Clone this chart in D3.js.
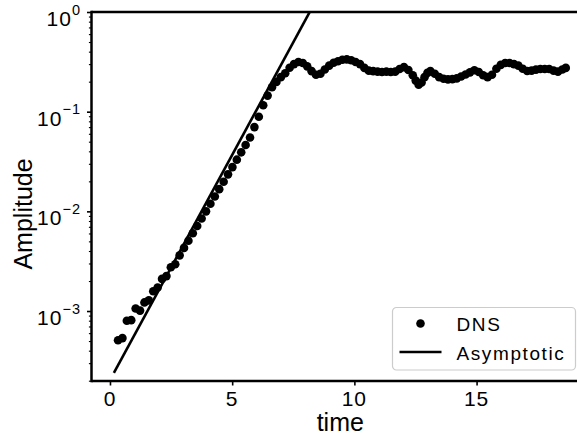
<!DOCTYPE html>
<html>
<head>
<meta charset="utf-8">
<script src="https://cdn.jsdelivr.net/npm/d3@7"></script>
<style>
body { margin: 0; background: #fff; }
svg { display: block; font-family: "Liberation Sans", Arial, sans-serif; }
.axis path { display: none; }
.axis line { stroke: #000; }
</style>
</head>
<body>
<svg id="chart" width="577" height="439"></svg>
<script>
// DNS amplitude vs time
var dnsTime = [0.33, 0.51, 0.69, 0.87, 1.05, 1.23, 1.41, 1.59, 1.77, 1.95, 2.13, 2.31, 2.49, 2.67,
    2.85, 3.03, 3.21, 3.39, 3.57, 3.75, 3.93, 4.11, 4.29, 4.47, 4.65, 4.83, 5.01, 5.19, 5.37, 5.55,
    5.73, 5.91, 6.09, 6.27, 6.45, 6.63, 6.81, 6.99, 7.17, 7.35, 7.53, 7.71, 7.89, 8.07, 8.25, 8.43,
    8.61, 8.79, 8.97, 9.15, 9.33, 9.51, 9.69, 9.87, 10.05, 10.23, 10.41, 10.59, 10.77, 10.95, 11.13,
    11.31, 11.49, 11.67, 11.85, 12.03, 12.21, 12.39, 12.51, 12.63, 12.75, 12.87, 12.99, 13.11, 13.29, 13.47, 13.65,
    13.83, 14.01, 14.19, 14.37, 14.55, 14.73, 14.91, 15.09, 15.27, 15.45, 15.63, 15.81, 15.99, 16.17,
    16.35, 16.53, 16.71, 16.89, 17.07, 17.25, 17.43, 17.61, 17.79, 17.97, 18.15, 18.33, 18.51, 18.65];
var dnsAmp = [5.1e-4, 5.35e-4, 8.0e-4, 8.1e-4, 1.06e-3, 1.01e-3, 1.22e-3, 1.28e-3, 1.58e-3, 1.72e-3, 2.1e-3, 2.24e-3, 2.75e-3, 2.95e-3,
    3.62e-3, 4.30e-3, 5.08e-3, 6.03e-3, 7.14e-3, 8.47e-3, 1.00e-2, 1.19e-2, 1.41e-2, 1.67e-2, 1.98e-2, 2.35e-2, 2.78e-2, 3.30e-2, 3.91e-2, 4.63e-2,
    5.50e-2, 0.070, 0.089, 0.116, 0.145, 0.176, 0.199, 0.222, 0.243, 0.276, 0.300, 0.315, 0.308, 0.285, 0.255, 0.235,
    0.240, 0.265, 0.290, 0.310, 0.320, 0.332, 0.335, 0.328, 0.315, 0.300, 0.275, 0.258, 0.255, 0.252, 0.250,
    0.252, 0.250, 0.252, 0.268, 0.280, 0.262, 0.232, 0.205, 0.186, 0.196, 0.222, 0.245, 0.255, 0.240, 0.222, 0.214,
    0.211, 0.212, 0.216, 0.225, 0.236, 0.248, 0.260, 0.250, 0.232, 0.222, 0.235, 0.270, 0.295, 0.308,
    0.308, 0.300, 0.290, 0.270, 0.256, 0.258, 0.264, 0.268, 0.268, 0.268, 0.258, 0.252, 0.265, 0.275];

// asymptotic growth, straight on log axis
var asymTime = [0.16, 10];
var asymAmp = [2.39e-4, 6.7];

var xTicks = [0, 5, 10, 15];
var yTicks = [1e-3, 1e-2, 1e-1, 1];
var yTickExp = ["\u22123", "\u22122", "\u22121", "0"];
var yMinor = [2e-4, 3e-4, 4e-4, 5e-4, 6e-4, 7e-4, 8e-4, 9e-4,
    2e-3, 3e-3, 4e-3, 5e-3, 6e-3, 7e-3, 8e-3, 9e-3,
    2e-2, 3e-2, 4e-2, 5e-2, 6e-2, 7e-2, 8e-2, 9e-2,
    0.2, 0.3, 0.4, 0.5, 0.6, 0.7, 0.8, 0.9];

var plot = {left: 91.5, right: 589, top: 12, bottom: 381};

var svg = d3.select("#chart");

var scaleX = d3.scaleLinear().domain([-0.756, 19.6]).range([plot.left, plot.right]);
var scaleY = d3.scaleLog().domain([Math.pow(10, -3.702), 1]).range([plot.bottom, plot.top]);

svg.append("defs").append("clipPath")
    .attr("id", "clip")
    .append("rect")
        .attr("x", plot.left)
        .attr("y", plot.top)
        .attr("width", plot.right - plot.left)
        .attr("height", plot.bottom - plot.top);

var marks = svg.append("g").attr("clip-path", "url(#clip)");

// asymptotic line
var line = d3.line()
    .x(function(d, i) { return scaleX(asymTime[i]) })
    .y(function(d, i) { return scaleY(asymAmp[i]) });

marks.append("path")
    .datum(asymTime)
    .attr("d", line)
    .attr("fill", "none")
    .attr("stroke", "#000")
    .attr("stroke-width", 2.6);

// DNS dots
marks.selectAll(".dns")
    .data(dnsTime)
    .enter()
    .append("circle")
        .attr("class", "dns")
        .attr("cx", function(d) { return scaleX(d) })
        .attr("cy", function(d, i) { return scaleY(dnsAmp[i]) })
        .attr("r", 4.3)
        .attr("fill", "#000");

// x axis
var xAxis = d3.axisBottom(scaleX).tickValues(xTicks).tickSize(4.5).tickFormat("");
svg.append("g")
    .attr("class", "axis")
    .attr("transform", "translate(0," + plot.bottom + ")")
    .call(xAxis)
    .selectAll("line").attr("stroke-width", 1.6);

svg.selectAll(".x-label")
    .data(xTicks)
    .enter()
    .append("text")
        .attr("class", "x-label")
        .attr("x", function(d) { return scaleX(d) })
        .attr("y", 405.5)
        .attr("text-anchor", "middle")
        .attr("font-size", 21)
        .attr("letter-spacing", 1)
        .text(function(d) { return d });

// y axis, major + minor ticks
var yAxis = d3.axisLeft(scaleY).tickValues(yTicks).tickSize(4.5).tickFormat("");
svg.append("g")
    .attr("class", "axis")
    .attr("transform", "translate(" + plot.left + ",0)")
    .call(yAxis)
    .selectAll("line").attr("stroke-width", 1.6);

var yAxisMinor = d3.axisLeft(scaleY).tickValues(yMinor).tickSize(2.6).tickFormat("");
svg.append("g")
    .attr("class", "axis")
    .attr("transform", "translate(" + plot.left + ",0)")
    .call(yAxisMinor)
    .selectAll("line").attr("stroke-width", 1.1);

var yLabels = svg.selectAll(".y-label")
    .data(yTicks)
    .enter()
    .append("text")
        .attr("class", "y-label")
        .attr("x", 81)
        .attr("y", function(d) { return scaleY(d) + 14 })
        .attr("text-anchor", "end")
        .attr("font-size", 21)
        .attr("letter-spacing", 1);
yLabels.append("tspan").text("10");
yLabels.append("tspan")
    .attr("font-size", 14.5)
    .attr("dy", -11.5)
    .text(function(d, i) { return yTickExp[i] });

// spines
svg.append("line")
    .attr("x1", plot.left).attr("x2", plot.right)
    .attr("y1", plot.top).attr("y2", plot.top)
    .attr("stroke", "#000").attr("stroke-width", 2.5);
svg.append("line")
    .attr("x1", plot.left).attr("x2", plot.right)
    .attr("y1", plot.bottom).attr("y2", plot.bottom)
    .attr("stroke", "#000").attr("stroke-width", 2.5);
svg.append("line")
    .attr("x1", plot.left).attr("x2", plot.left)
    .attr("y1", plot.top - 1.25).attr("y2", plot.bottom + 1.25)
    .attr("stroke", "#000").attr("stroke-width", 2.5);

// axis titles
svg.append("text")
    .attr("x", (plot.left + plot.right) / 2)
    .attr("y", 431)
    .attr("text-anchor", "middle")
    .attr("font-size", 25)
    .text("time");

svg.append("text")
    .attr("transform", "translate(32,214) rotate(-90)")
    .attr("text-anchor", "middle")
    .attr("font-size", 25)
    .text("Amplitude");

// legend
var legend = svg.append("g").attr("transform", "translate(392.5,307.5)");
legend.append("rect")
    .attr("width", 183)
    .attr("height", 62.5)
    .attr("rx", 4)
    .attr("fill", "#fff")
    .attr("fill-opacity", 0.8)
    .attr("stroke", "#ccc")
    .attr("stroke-width", 1.2);
legend.append("circle")
    .attr("cx", 28).attr("cy", 16)
    .attr("r", 4.3)
    .attr("fill", "#000");
legend.append("line")
    .attr("x1", 7).attr("x2", 49)
    .attr("y1", 44.5).attr("y2", 44.5)
    .attr("stroke", "#000").attr("stroke-width", 2.6);
legend.append("text")
    .attr("x", 64).attr("y", 23)
    .attr("font-size", 19)
    .attr("letter-spacing", 1.6)
    .text("DNS");
legend.append("text")
    .attr("x", 64).attr("y", 52)
    .attr("font-size", 19)
    .attr("letter-spacing", 1.6)
    .text("Asymptotic");
</script>
</body>
</html>
